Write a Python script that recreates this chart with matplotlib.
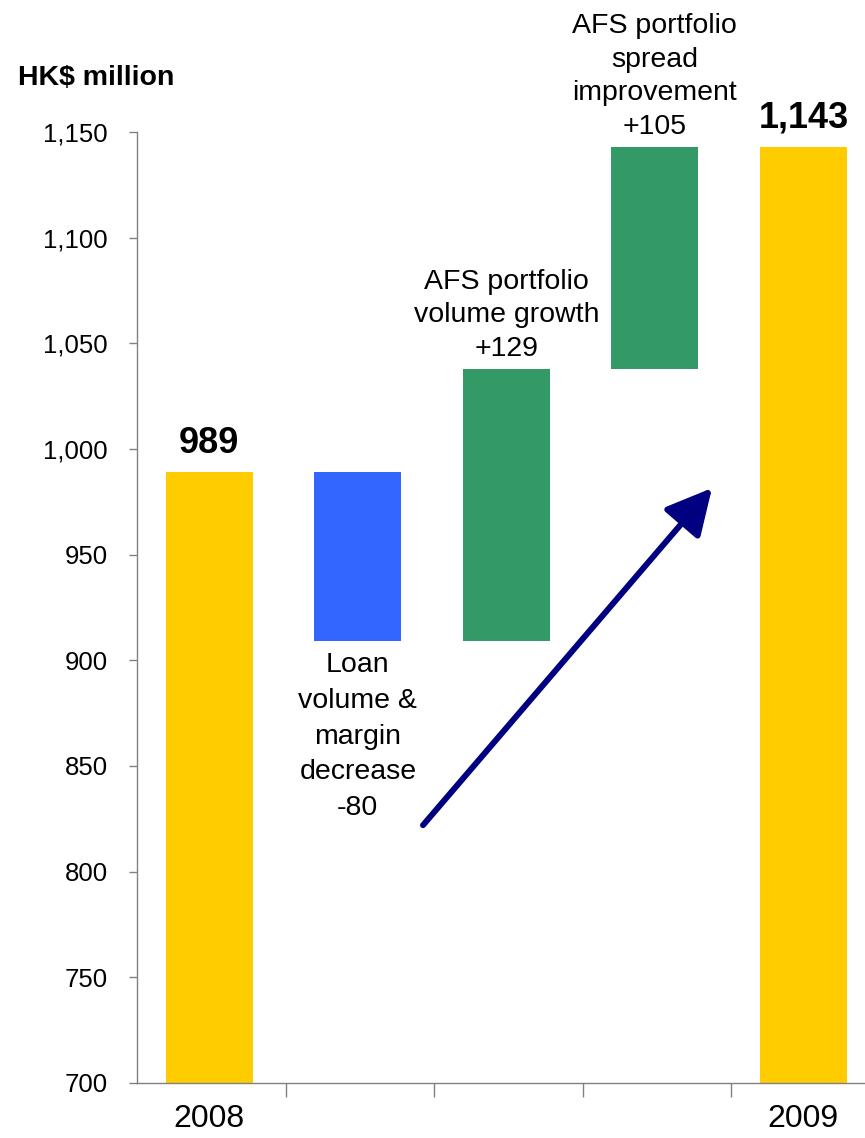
import matplotlib
matplotlib.use("Agg")
from matplotlib import pyplot as plt
import numpy as np

plt.rcParams['font.family'] = ['Liberation Sans', 'DejaVu Sans']

# data
years = ['2008', '2009']
start_value = 989
end_value = 1143
changes = [-80, 129, 105]
change_labels = ['Loan\nvolume &\nmargin\ndecrease\n-80',
                 'AFS portfolio\nvolume growth\n+129',
                 'AFS portfolio\nspread\nimprovement\n+105']
y_ticks = [700, 750, 800, 850, 900, 950, 1000, 1050, 1100, 1150]

yellow = '#FFCC00'
blue = '#3366FF'
green = '#339966'
navy = '#000080'
grey = '#808080'

fig = plt.figure(figsize=(8.65, 11.38), dpi=100)
ax = fig.add_axes([137/865, 1 - 1083/1138, 742.5/865, (1083 - 132)/1138])

w = 0.585
n = len(changes) + 2
x = np.arange(n)

# totals
ax.bar(x[0], start_value, width=w, color=yellow, zorder=2)
ax.bar(x[-1], end_value, width=w, color=yellow, zorder=2)

# steps
level = start_value
for i, c in enumerate(changes):
    lo, hi = min(level, level + c), max(level, level + c)
    col = blue if c < 0 else green
    ax.bar(x[i + 1], hi - lo, bottom=lo, width=w, color=col, zorder=2)
    if c < 0:
        ax.annotate(change_labels[i], xy=(x[i + 1], lo), xytext=(0, -8),
                    textcoords='offset points', ha='center', va='top',
                    fontsize=20.5, linespacing=1.48)
    else:
        ax.annotate(change_labels[i], xy=(x[i + 1], hi), xytext=(0, 5),
                    textcoords='offset points', ha='center', va='bottom',
                    fontsize=20.5, linespacing=1.38)
    level += c

# total labels
ax.annotate(f'{start_value:,}', xy=(x[0], start_value), xytext=(0, 8),
            textcoords='offset points', ha='center', va='bottom',
            fontsize=26, fontweight='bold')
ax.annotate(f'{end_value:,}', xy=(x[-1], end_value), xytext=(0, 8),
            textcoords='offset points', ha='center', va='bottom',
            fontsize=26, fontweight='bold')

# arrow
ax.annotate('', xy=(3.385, 981.5), xytext=(1.439, 822),
            arrowprops=dict(arrowstyle='-|>,head_length=1.4,head_width=0.72',
                            mutation_scale=20, lw=4.3, color=navy,
                            shrinkA=0, shrinkB=0), zorder=3)

ax.set_xlim(-0.487, n - 0.487)
ax.set_ylim(700, 1150)
ax.set_yticks(y_ticks)
ax.set_yticklabels([f'{v:,}' for v in y_ticks])
ax.tick_params(axis='y', length=6, width=1, color=grey, labelsize=18.5, pad=15)

ax.set_xticks(x)
ax.set_xticklabels([years[0]] + [''] * (n - 2) + [years[1]])
ax.set_xticks(np.arange(n) + 0.513, minor=True)
ax.tick_params(axis='x', which='major', length=0, labelsize=23, pad=15)
ax.tick_params(axis='x', which='minor', length=10, width=1, color=grey)

for s in ['top', 'right']:
    ax.spines[s].set_visible(False)
for s in ['left', 'bottom']:
    ax.spines[s].set_color(grey)
    ax.spines[s].set_linewidth(1)

fig.text(18/865, 1 - 78/1138, 'HK$ million', fontsize=20.5, fontweight='bold',
         ha='left', va='center')

fig.savefig('out.png', dpi=100)
